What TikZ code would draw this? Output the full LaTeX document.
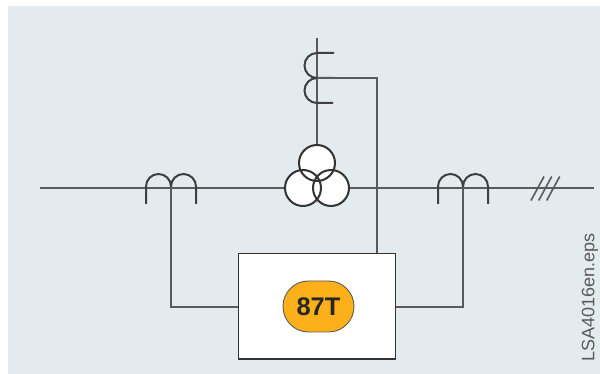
\documentclass[tikz,border=0pt]{standalone}
\usepackage{fontspec}
\setmainfont{Liberation Sans}
\definecolor{panel}{HTML}{E3EBEF}
\definecolor{wire}{HTML}{5A5A5A}
\definecolor{ink}{HTML}{333333}
\definecolor{amber}{HTML}{FDB019}
\tikzset{
  wireline/.style={draw=wire,line width=2pt},
  coil/.style={draw=ink!70!wire,line width=2pt},
  hatchline/.style={draw=wire,line width=1.6pt},
  winding/.style={circle,minimum size=36pt,inner sep=0pt,line width=2pt},
  relaybox/.style={draw=ink,fill=white,line width=1.6pt,minimum width=157pt,minimum height=105.5pt,inner sep=0pt},
  relaypill/.style={draw=wire,fill=amber,line width=0.9pt,rounded corners=25.4pt,minimum width=71pt,minimum height=51pt,inner sep=0pt,text=black!85,font=\fontsize{25.5}{26}\selectfont\bfseries},
  filetag/.style={text=wire,rotate=90,inner sep=0pt,font=\fontsize{18}{18}\selectfont}
}
\begin{document}
\begin{tikzpicture}[x=1pt,y=1pt]
\useasboundingbox (0,0) rectangle (600,374);
\fill[panel] (8,0) rectangle (600,368);
% named points
\coordinate (busL) at (40,186);
\coordinate (busR) at (594,186);
\coordinate (feedTop) at (317,336);
\coordinate (tapTop) at (317,296);
\coordinate (feedCorner) at (377,296);
\coordinate (feedEnd) at (377,120.5);
\coordinate (ctLmid) at (171,187);
\coordinate (ctRmid) at (463,187);
% lines under the transformer
\draw[wireline] (busL) -- (busR);
\draw[wireline] (feedTop) -- (317,200);
% transformer
\node[winding,fill=white] (wTop) at (317,211) {};
\node[winding,fill=white] (wLeft) at (303,186) {};
\node[winding,fill=white] (wRight) at (331,186) {};
\node[winding,draw=ink] at (wTop) {};
\node[winding,draw=ink] at (wLeft) {};
\node[winding,draw=ink] at (wRight) {};
% relay
\node[relaybox] (box) at (317,67.75) {};
\node[relaypill] (pill) at (318.5,67.5) {87T};
% vertical current transformers
\draw[coil] (334,321) -- (317,321) arc[start angle=90,end angle=270,radius=12.5pt] -- (333,296);
\draw[coil] (317,296) arc[start angle=90,end angle=270,radius=12.5pt] -- (333,271);
\draw[wireline] (tapTop) -- (feedCorner) -- (feedEnd);
% left current transformer
\draw[coil] (146,170) -- (146,187.5) arc[start angle=180,end angle=0,radius=12.5pt] arc[start angle=180,end angle=0,radius=12.5pt] -- (196,170);
\draw[wireline] (ctLmid) |- (box.west |- 0,67);
% right current transformer
\draw[coil] (438,170) -- (438,187.5) arc[start angle=180,end angle=0,radius=12.5pt] arc[start angle=180,end angle=0,radius=12.5pt] -- (488,170);
\draw[wireline] (ctRmid) |- (box.east |- 0,67);
% three-phase mark
\draw[hatchline] (531,173.5) -- (544,197.5);
\draw[hatchline] (538.7,173.5) -- (551.7,197.5);
\draw[hatchline] (546.7,173.5) -- (559.7,197.5);
% file tag
\node[filetag,anchor=west] (tag) at (590,12) {LSA4016en.eps};
\end{tikzpicture}
\end{document}
